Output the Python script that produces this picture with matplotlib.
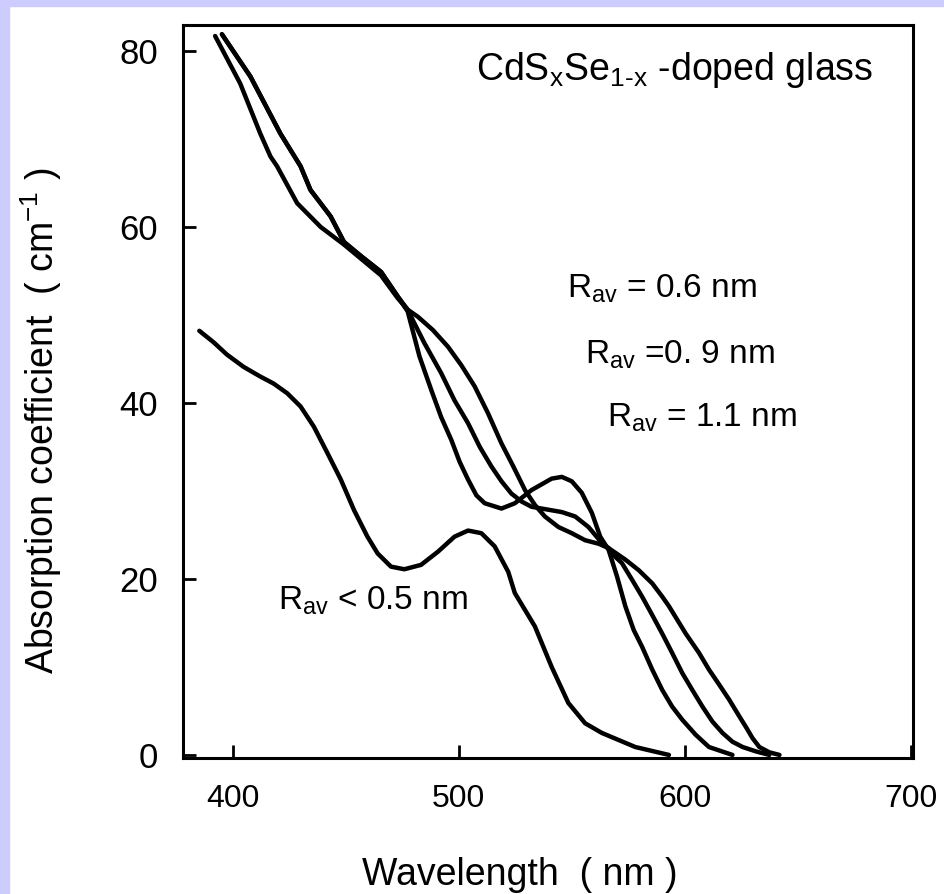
import matplotlib
matplotlib.use("Agg")
import matplotlib.pyplot as plt
from matplotlib.patches import Rectangle

plt.rcParams['font.family'] = ['Liberation Sans', 'DejaVu Sans']
plt.rcParams['mathtext.fontset'] = 'custom'
plt.rcParams['mathtext.rm'] = 'Liberation Sans'
plt.rcParams['mathtext.it'] = 'Liberation Sans:italic'

# wavelength (nm) / absorption coefficient (cm^-1)
wl_05 = [385.2, 391.5, 397.4, 404.8, 412.2, 418.1, 424.1, 430.0, 435.9, 441.9,
         447.8, 453.7, 459.6, 464.1, 470.0, 475.9, 483.3, 490.8, 498.1, 504.1,
         510.0, 515.9, 521.9, 524.8, 533.7, 541.1, 548.5, 555.9, 563.3, 578.1,
         593.0]
ab_05 = [48.2, 46.9, 45.5, 44.1, 43.0, 42.2, 41.1, 39.6, 37.3, 34.3,
         31.3, 27.8, 24.8, 22.9, 21.4, 21.1, 21.6, 23.1, 24.8, 25.5,
         25.2, 23.7, 20.8, 18.4, 14.6, 10.0, 5.9, 3.6, 2.5, 0.9,
         0.0]

wl_06 = [395.2, 407.8, 421.1, 430.0, 434.4, 443.3, 449.2, 456.7, 465.6, 473.0,
         477.4, 482.6, 487.8, 492.2, 496.7, 500.4, 504.1, 507.8, 511.5, 518.9,
         524.8, 532.2, 541.1, 545.6, 550.0, 554.4, 558.9, 562.6, 566.3, 570.0,
         573.7, 577.4, 581.1, 585.6, 590.0, 594.4, 598.9, 604.8, 610.7, 621.1]
ab_06 = [81.9, 77.1, 70.6, 66.9, 64.2, 61.2, 58.3, 56.7, 54.9, 52.1,
         50.4, 45.3, 41.5, 38.4, 35.8, 33.3, 31.3, 29.5, 28.6, 28.0,
         28.6, 30.1, 31.4, 31.6, 31.1, 29.8, 27.5, 24.8, 23.3, 20.3,
         16.9, 14.2, 12.3, 9.7, 7.4, 5.5, 4.0, 2.3, 0.9, 0.0]

wl_09 = [395.2, 407.8, 421.1, 430.0, 434.4, 443.3, 449.2, 456.7, 465.6, 473.0,
         477.4, 478.9, 484.8, 492.2, 498.1, 504.1, 509.3, 514.4, 518.9, 523.3,
         527.8, 532.2, 536.7, 545.6, 551.5, 557.4, 563.3, 566.3, 569.3, 572.2,
         576.7, 581.1, 585.6, 590.0, 594.4, 598.9, 603.3, 607.8, 612.2, 616.7,
         621.1, 625.6, 631.5, 637.4]
ab_09 = [81.9, 77.1, 70.6, 66.9, 64.2, 61.2, 58.3, 56.7, 54.9, 52.1,
         50.6, 49.8, 46.8, 43.4, 40.3, 37.7, 35.0, 32.8, 31.1, 29.7,
         28.8, 28.2, 28.0, 27.6, 27.1, 25.9, 24.1, 23.5, 22.5, 21.8,
         19.9, 18.0, 15.9, 13.8, 11.6, 9.3, 7.4, 5.5, 3.8, 2.5,
         1.5, 0.9, 0.4, 0.0]

wl_11 = [392.2, 403.3, 412.2, 416.7, 419.6, 428.5, 438.9, 449.2, 456.7, 465.6,
         473.0, 477.4, 481.9, 488.5, 495.2, 501.1, 507.0, 513.0, 518.9, 524.1,
         529.3, 533.7, 538.1, 544.1, 550.0, 555.9, 561.9, 566.3, 573.7, 579.6,
         585.6, 590.0, 593.0, 600.4, 606.3, 610.7, 615.2, 619.6, 624.1, 627.0,
         630.0, 633.0, 637.4, 641.9]
ab_11 = [81.7, 76.3, 70.6, 68.0, 66.9, 62.7, 60.0, 58.0, 56.4, 54.5,
         51.9, 50.6, 49.8, 48.3, 46.4, 44.3, 41.9, 38.8, 35.4, 32.8,
         30.1, 28.4, 27.1, 25.9, 25.2, 24.4, 24.0, 23.5, 22.2, 21.0,
         19.5, 18.0, 16.9, 13.8, 11.6, 9.7, 8.0, 6.3, 4.4, 3.2,
         1.9, 0.9, 0.3, 0.0]

x_ticks = [400, 500, 600, 700]
y_ticks = [0, 20, 40, 60, 80]

fig = plt.figure(figsize=(9.44, 8.94), dpi=100)
fig.patch.set_facecolor('white')
# lavender strips along the top and left edge of the scan
fig.patches.append(Rectangle((0, 0.9935), 1, 0.0065, transform=fig.transFigure,
                             color='#ccccff', zorder=0))
fig.patches.append(Rectangle((0, 0), 0.0095, 1, transform=fig.transFigure,
                             color='#ccccff', zorder=0))

ax = fig.add_axes([0.1939, 0.1526, 0.7733, 0.8199])

for wl, ab in [(wl_05, ab_05), (wl_06, ab_06), (wl_09, ab_09), (wl_11, ab_11)]:
    ax.plot(wl, ab, color='black', lw=3.2, solid_joinstyle='round',
            solid_capstyle='round')

ax.set_xlim(378, 701)
ax.set_ylim(-0.3, 83)
ax.set_xticks(x_ticks)
ax.set_yticks(y_ticks)
ax.tick_params(axis='both', direction='in', length=9.5, width=2.0, color='black')
ax.tick_params(axis='x', labelsize=23, pad=19)
ax.tick_params(axis='y', labelsize=25, pad=18)
for s in ax.spines.values():
    s.set_linewidth(2.2)

ax.set_xlabel('Wavelength  ( nm )', fontsize=27, labelpad=31, x=0.462)
ax.set_ylabel(r'Absorption coefficient  ( cm$\mathregular{^{-1}}$ )', fontsize=27,
              labelpad=40, y=0.459)

ax.text(507.8, 77.8, r'CdS$\mathregular{_x}$Se$\mathregular{_{1\text{-}x}}$ -doped glass',
        fontsize=27, ha='left', va='center')
ax.text(547.8, 52.0, r'R$\mathregular{_{av}}$ = 0.6 nm', fontsize=24, va='baseline')
ax.text(555.8, 44.5, r'R$\mathregular{_{av}}$ =0. 9 nm', fontsize=24, va='baseline')
ax.text(565.6, 37.3, r'R$\mathregular{_{av}}$ = 1.1 nm', fontsize=24, va='baseline')
ax.text(419.8, 16.5, r'R$\mathregular{_{av}}$ < 0.5 nm', fontsize=24, va='baseline')

fig.savefig('out.png', dpi=100)
